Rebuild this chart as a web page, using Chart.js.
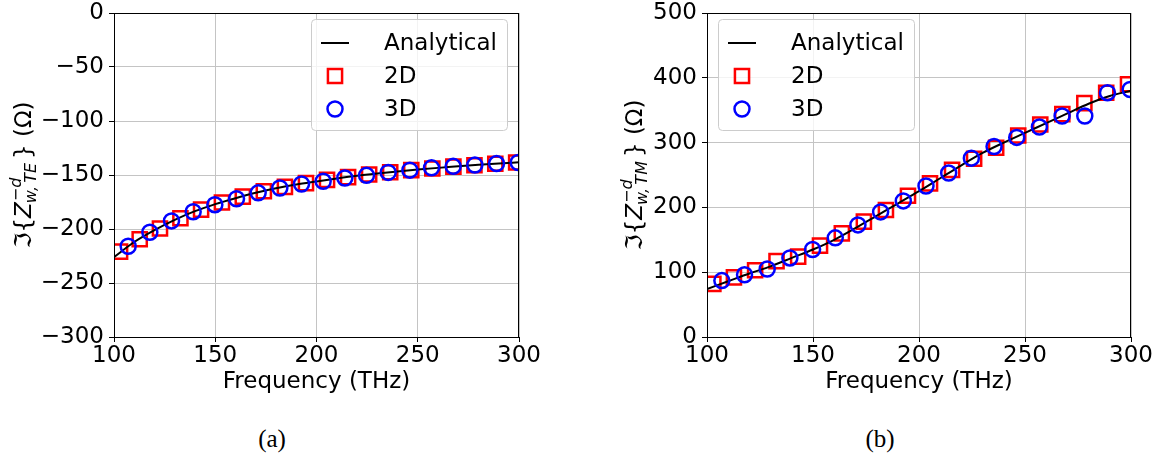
<!DOCTYPE html>
<html>
<head>
<meta charset="utf-8">
<script src="https://cdn.jsdelivr.net/npm/chart.js@4.4.1/dist/chart.umd.min.js"></script>
<style>
  body { margin: 0; background: #fff; width: 1167px; height: 463px; position: relative; overflow: hidden; }
  .panel { position: absolute; top: 0; }
  .cap { position: absolute; top: 425px; width: 80px; text-align: center;
         font-family: "Liberation Serif", "DejaVu Serif", serif; font-size: 25px; color: #000; }
</style>
</head>
<body>
<div class="panel" style="left:0"><canvas id="te" width="583" height="400"></canvas></div>
<div class="panel" style="left:583px"><canvas id="tm" width="584" height="400"></canvas></div>
<div class="cap" style="left:232px">(a)</div>
<div class="cap" style="left:840px">(b)</div>
<script>
// frequency grids (THz)
const freqAnalytical = [100, 110, 120, 130, 140, 150, 160, 170, 180, 190, 200, 210, 220, 230, 240, 250, 260, 270, 280, 290, 300];
const freq2D = [103, 112.7, 122.7, 132.8, 143, 153.3, 163.6, 174, 184.4, 194.8, 205.2, 215.6, 226, 236.4, 246.8, 257.2, 267.6, 278, 288.3, 298.6];
const freq3D = [107, 117.7, 128.4, 139.1, 149.8, 160.5, 171.2, 181.9, 192.6, 203.3, 214, 224.7, 235.4, 246.1, 256.8, 267.5, 278.2, 288.9, 299.6];

// Im{Z} TE (ohm)
const teAnalytical = [-226, -212, -201, -191.5, -183.5, -177, -171.5, -166.5, -162.3, -158.8, -156, -153.3, -150.8, -148.7, -146.8, -145, -143.4, -142, -140.6, -139.4, -138.3];
const te2D = [-221, -209.5, -199.5, -190, -182, -175.5, -170, -165, -161, -157.5, -154.5, -152, -149.5, -147.5, -145.5, -144, -142.3, -141, -139.6, -138.4];
const te3D = [-216, -203, -192.5, -184, -177.5, -172, -166.5, -162, -158.3, -155.8, -152.8, -150.3, -147.6, -145.5, -143.4, -142, -140.7, -139.4, -138.4];

// Im{Z} TM (ohm)
const tmAnalytical = [74, 86, 98, 109, 122, 135, 150, 168, 187, 206, 225, 245, 265, 284, 300, 315, 330, 345, 360, 372, 380];
const tm2D = [82, 92, 103, 117, 124, 141, 160, 178, 196, 218, 237, 258, 275, 292, 311, 328, 344, 361, 377, 390];
const tm3D = [87, 96, 105, 122, 135, 153, 173, 193, 210, 233, 253, 276, 294, 308, 324, 341, 341, 377, 382];

const freqTicks = { min: 100, max: 300, step: 50 };
const teTicks = { min: -300, max: 0, step: 50 };
const tmTicks = { min: 0, max: 500, step: 100 };
const seriesNames = ["Analytical", "2D", "3D"];

const FS = 23;
Chart.defaults.font.family = "DejaVu Sans";
Chart.defaults.color = "#000";

const pts = (xs, ys) => xs.map((x, i) => ({ x: x, y: ys[i] }));
const minus = v => String(v).replace("-", "\u2212");

// frame, legend box and the rotated math label
const decor = {
  id: "decor",
  afterDraw(chart, args, opts) {
    const ctx = chart.ctx;
    const a = chart.chartArea;
    ctx.save();
    ctx.strokeStyle = "#000";
    ctx.lineWidth = 1;
    ctx.strokeRect(Math.round(a.left) + 0.5, Math.round(a.top) + 0.5,
                   Math.round(a.right - a.left) - 1, Math.round(a.bottom - a.top));

    // legend
    const bw = 196, bh = 111;
    const bx = opts.corner === "right" ? a.right - 12 - bw : a.left + 11;
    const by = a.top + 6;
    ctx.beginPath();
    ctx.roundRect(bx + 0.5, by + 0.5, bw, bh, 4);
    ctx.fillStyle = "rgba(255,255,255,0.8)";
    ctx.fill();
    ctx.strokeStyle = "#cccccc";
    ctx.stroke();
    const ds = chart.data.datasets;
    ctx.textBaseline = "middle";
    for (let i = 0; i < 3; i++) {
      const ry = by + 24 + i * 33;
      const d = ds[i];
      ctx.strokeStyle = d.borderColor;
      ctx.lineWidth = d.borderWidth;
      if (i === 0) {
        ctx.beginPath();
        ctx.moveTo(bx + 10, ry);
        ctx.lineTo(bx + 38, ry);
        ctx.stroke();
      } else {
        ctx.fillStyle = "rgba(0,0,0,0)";
        Chart.helpers.drawPoint(ctx, { pointStyle: d.pointStyle, radius: d.pointRadius, borderWidth: d.borderWidth, rotation: 0 }, bx + 24, ry);
      }
      ctx.font = FS + "px 'DejaVu Sans'";
      ctx.fillStyle = "#000";
      ctx.fillText(seriesNames[i], bx + 73, ry + 1);
    }

    // y label: Im{Z^{-d}_{w,XX}} (Ω)
    const big = FS + "px 'DejaVu Sans'", bigIt = "italic " + FS + "px 'DejaVu Sans'";
    const sm = "16px 'DejaVu Sans'", smIt = "italic 16px 'DejaVu Sans'";
    const w = (f, t) => { ctx.font = f; return ctx.measureText(t).width; };
    const w1 = w(big, "\u2111{"), wz = w(bigIt, "Z");
    const wsupM = w(sm, "\u2212"), wsupD = w(smIt, "d");
    const wsub = w(smIt, opts.sub);
    const wscript = Math.max(wsupM + wsupD, wsub);
    const w3 = w(big, "} (\u03A9)");
    const total = w1 + wz + 1 + wscript + 2 + w3;
    ctx.translate(opts.labelX, (a.top + a.bottom) / 2);
    ctx.rotate(-Math.PI / 2);
    ctx.textBaseline = "alphabetic";
    ctx.textAlign = "left";
    let x = -total / 2;
    ctx.font = big; ctx.fillText("\u2111{", x, 0); x += w1;
    ctx.font = bigIt; ctx.fillText("Z", x, 0); x += wz + 1;
    ctx.font = sm; ctx.fillText("\u2212", x, -10);
    ctx.font = smIt; ctx.fillText("d", x + wsupM, -10);
    ctx.fillText(opts.sub, x - 2, 5);
    x += wscript + 2;
    ctx.font = big; ctx.fillText("} (\u03A9)", x, 0);
    ctx.restore();
  }
};

function makeChart(id, series, yTicks, layout) {
  const [analytical, d2, d3] = series;
  return new Chart(document.getElementById(id), {
    type: "scatter",
    data: {
      datasets: [
        { label: seriesNames[0], data: pts(freqAnalytical, analytical), showLine: true,
          borderColor: "#000", borderWidth: 2, pointRadius: 0, cubicInterpolationMode: "monotone",
          order: 1, clip: 0 },
        { label: seriesNames[1], data: pts(freq2D, d2), pointStyle: "rect", pointRadius: 10,
          borderColor: "#ff0000", backgroundColor: "transparent", borderWidth: 2.5, order: 2, clip: 0 },
        { label: seriesNames[2], data: pts(freq3D, d3), pointStyle: "circle", pointRadius: 7.5,
          borderColor: "#0000ff", backgroundColor: "transparent", borderWidth: 2.5, order: 0, clip: 0 }
      ]
    },
    options: {
      responsive: false,
      animation: false,
      events: [],
      layout: { padding: { left: 0, right: layout.padRight, top: 13, bottom: 0 } },
      plugins: {
        legend: { display: false },
        tooltip: { enabled: false },
        decor: { corner: layout.corner, labelX: layout.labelX, sub: layout.sub }
      },
      scales: {
        x: {
          type: "linear", min: freqTicks.min, max: freqTicks.max,
          ticks: { stepSize: freqTicks.step, font: { size: FS }, padding: 0, maxRotation: 0 },
          grid: { color: "#c4c4c4", lineWidth: 1, tickColor: "#000", tickLength: 5, tickWidth: 1 },
          border: { display: true, color: "#000", width: 1 },
          title: { display: true, text: "Frequency (THz)", font: { size: FS }, padding: { top: 2, bottom: 4 } },
          afterFit: s => { s.height = 63; s.paddingLeft = 0; s.paddingRight = 0; }
        },
        y: {
          min: yTicks.min, max: yTicks.max,
          ticks: { stepSize: yTicks.step, font: { size: FS }, padding: 5, callback: minus },
          grid: { color: "#c4c4c4", lineWidth: 1, tickColor: "#000", tickLength: 5, tickWidth: 1 },
          border: { display: true, color: "#000", width: 1 },
          afterFit: s => { s.width = layout.yWidth; s.paddingTop = 0; s.paddingBottom = 0; }
        }
      }
    },
    plugins: [decor]
  });
}

makeChart("te", [teAnalytical, te2D, te3D], teTicks,
  { padRight: 64, yWidth: 114, corner: "right", labelX: 31, sub: "w,\u2009TE" });
makeChart("tm", [tmAnalytical, tm2D, tm3D], tmTicks,
  { padRight: 36, yWidth: 124, corner: "left", labelX: 59, sub: "w,\u2009TM" });
</script>
</body>
</html>
